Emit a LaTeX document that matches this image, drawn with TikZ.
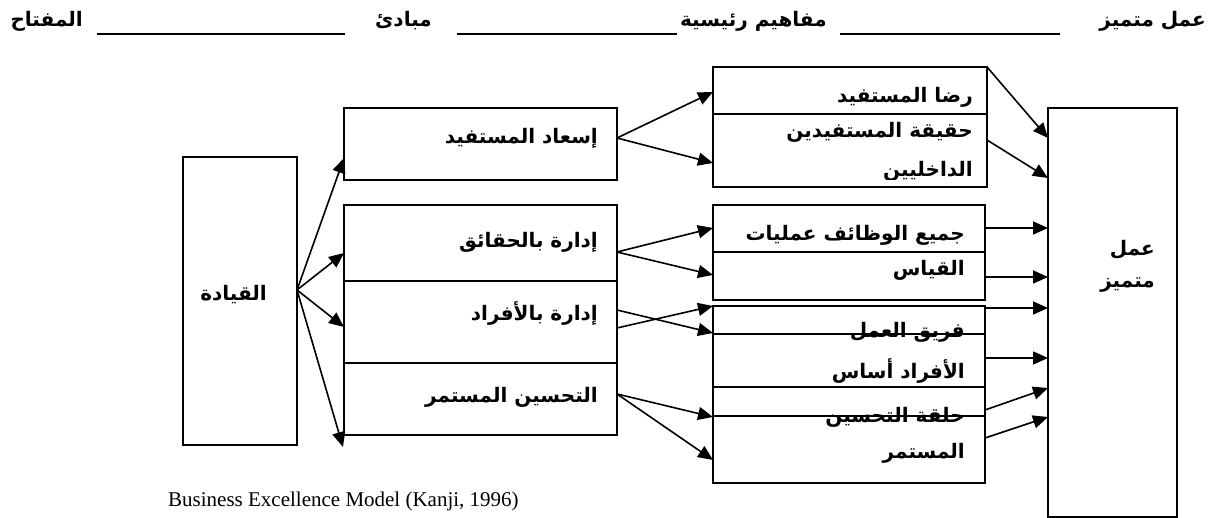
\documentclass[tikz,border=0pt]{standalone}
\usepackage{fontspec}
\setmainfont{Liberation Serif}
\newfontfamily\arabicfont[Script=Arabic]{DejaVu Sans}
\TeXXeTstate=1
\usetikzlibrary{arrows.meta}
\newcommand{\artxt}[1]{\beginR #1\endR}
\begin{document}
\begin{tikzpicture}[x=1pt,y=-1pt,
  box/.style={draw, line width=1.8pt, outer sep=0pt, inner sep=0pt, anchor=north west},
  divider/.style={line width=1.8pt},
  lbl/.style={font=\arabicfont\bfseries\fontsize{20}{24}\selectfont, inner sep=0pt, anchor=east},
  ulin/.style={line width=1.6pt},
  arr/.style={-{Triangle[length=15pt,width=13pt]}, line width=1.6pt}]
\useasboundingbox (0,0) rectangle (1218,518);

% header
\node[lbl] (h1) at (1206,21) {\artxt{عمل متميز}};
\node[lbl] (h2) at (827,21) {\artxt{مفاهيم رئيسية}};
\node[lbl] (h3) at (432,21) {\artxt{مبادئ}};
\node[lbl] (h4) at (83,21) {\artxt{المفتاح}};
\coordinate (u1a) at (840,34); \coordinate (u1b) at (1060,34);
\coordinate (u2a) at (457,34); \coordinate (u2b) at (677,34);
\coordinate (u3a) at (97,34);  \coordinate (u3b) at (345,34);
\draw[ulin] (u1a) -- (u1b);
\draw[ulin] (u2a) -- (u2b);
\draw[ulin] (u3a) -- (u3b);

% boxes
\node[box, minimum width=114, minimum height=288] (lead) at (183,157) {};
\node[box, minimum width=273, minimum height=72] (esaad) at (344,108) {};
\node[box, minimum width=273, minimum height=230] (stack) at (344,205) {};
\node[box, minimum width=274, minimum height=120] (rida) at (713,67) {};
\node[box, minimum width=272, minimum height=95] (proc) at (713,205) {};
\node[box, minimum width=272, minimum height=177] (team) at (713,306) {};
\node[box, minimum width=129, minimum height=409] (big) at (1048,108) {};

% dividers
\draw[divider] (stack.west |- 0,281) -- (stack.east |- 0,281);
\draw[divider] (stack.west |- 0,363) -- (stack.east |- 0,363);
\draw[divider] (rida.west |- 0,114) -- (rida.east |- 0,114);
\draw[divider] (proc.west |- 0,252) -- (proc.east |- 0,252);
\draw[divider] (team.west |- 0,334) -- (team.east |- 0,334);
\draw[divider] (team.west |- 0,387) -- (team.east |- 0,387);
\draw[divider] (team.west |- 0,416) -- (team.east |- 0,416);

% labels
\node[lbl] (tlead) at (267,295) {\artxt{القيادة}};
\node[lbl] (tesaad) at (598,138) {\artxt{إسعاد المستفيد}};
\node[lbl] (tfacts) at (598,242) {\artxt{إدارة بالحقائق}};
\node[lbl] (tpeople) at (598,313) {\artxt{إدارة بالأفراد}};
\node[lbl] (timprove) at (598,397) {\artxt{التحسين المستمر}};
\node[lbl] (trida) at (973,97) {\artxt{رضا المستفيد}};
\node[lbl] (thaqiqa) at (973,132) {\artxt{حقيقة المستفيدين}};
\begin{scope}
\clip (713,115) rectangle (987,180);
\node[lbl] (tdakhil) at (973,171) {\artxt{الداخليين}};
\end{scope}
\node[lbl] (tfunc) at (965,235) {\artxt{جميع الوظائف عمليات}};
\node[lbl] (tmeas) at (965,270) {\artxt{القياس}};
\node[lbl] (tteam) at (965,332) {\artxt{فريق العمل}};
\node[lbl] (tbasis) at (965,371) {\artxt{الأفراد أساس}};
\node[lbl] (tloop) at (965,417) {\artxt{حلقة التحسين}};
\node[lbl] (tcont) at (965,453) {\artxt{المستمر}};
\node[lbl] (tbig1) at (1155,250) {\artxt{عمل}};
\node[lbl] (tbig2) at (1155,285) {\artxt{متميز}};

% caption
\node[anchor=base west, inner sep=0pt, font=\fontsize{21}{24}\selectfont] (cap) at (168,506) {Business Excellence Model (Kanji, 1996)};

% arrows from leadership
\coordinate (L0) at (lead.east |- 0,290);
\coordinate (Lend) at (343,447);
\draw[arr] (L0) -- (esaad.west |- 0,158);
\draw[arr] (L0) -- (stack.west |- 0,253);
\draw[arr] (L0) -- (stack.west |- 0,327);
\draw[arr] (L0) -- (Lend);

% arrows from esaad
\coordinate (E0) at (esaad.east |- 0,138);
\draw[arr] (E0) -- (rida.west |- 0,92);
\draw[arr] (E0) -- (rida.west |- 0,163);

% arrows from stack
\coordinate (S1) at (stack.east |- 0,252);
\draw[arr] (S1) -- (proc.west |- 0,228);
\draw[arr] (S1) -- (proc.west |- 0,275);
\draw[arr] (stack.east |- 0,310) -- (team.west |- 0,333);
\draw[arr] (stack.east |- 0,328) -- (team.west |- 0,306);
\coordinate (S3) at (stack.east |- 0,394);
\draw[arr] (S3) -- (team.west |- 0,417);
\draw[arr] (S3) -- (team.west |- 0,460);

% arrows into big box
\draw[arr] (rida.north east) -- (big.west |- 0,138);
\draw[arr] (rida.east |- 0,140) -- (big.west |- 0,178);
\draw[arr] (proc.east |- 0,228) -- (big.west |- 0,228);
\draw[arr] (proc.east |- 0,277) -- (big.west |- 0,277);
\draw[arr] (team.east |- 0,308) -- (big.west |- 0,308);
\draw[arr] (team.east |- 0,358) -- (big.west |- 0,358);
\draw[arr] (team.east |- 0,410) -- (big.west |- 0,388);
\draw[arr] (team.east |- 0,438) -- (big.west |- 0,417);
\end{tikzpicture}
\end{document}
